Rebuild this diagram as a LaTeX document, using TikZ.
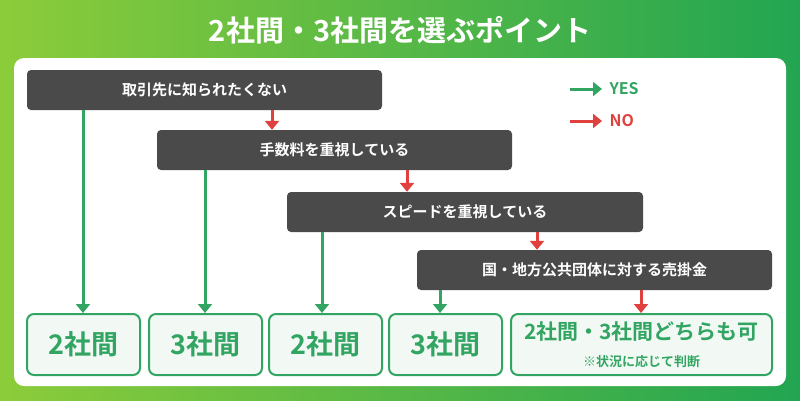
\documentclass[tikz,border=0pt]{standalone}
\usepackage{fontspec}
\setmainfont{Noto Sans CJK JP}[BoldFont={Noto Sans CJK JP Bold}]
\usetikzlibrary{arrows.meta}
\definecolor{bgl}{HTML}{8CCC3A}
\definecolor{bgr}{HTML}{22A552}
\definecolor{gbox}{HTML}{4A4A4A}
\definecolor{grn}{HTML}{33A563}
\definecolor{red}{HTML}{E0403E}
\definecolor{rfill}{HTML}{F2F9F4}
\begin{document}
\begin{tikzpicture}[x=1pt,y=-1pt,
 qbox/.style={draw=none,fill=gbox,rounded corners=4pt,text=white,font=\bfseries\fontsize{15}{18}\selectfont,inner sep=0pt},
 rbox/.style={draw=grn,line width=2pt,fill=rfill,rounded corners=7pt,text=grn,font=\bfseries\fontsize{27}{30}\selectfont,inner sep=0pt,align=center},
 yarr/.style={draw=grn,line width=3pt,-{Triangle[length=9pt,width=14pt]}},
 narr/.style={draw=red,line width=3pt,-{Triangle[length=9pt,width=14pt]}}]
\shade[left color=bgl,right color=bgr] (0,0) rectangle (800,400);
\useasboundingbox (0,0) rectangle (800,400);
\node[text=white,font=\bfseries\fontsize{29}{32}\selectfont] (title) at (400,30) {2社間・3社間を選ぶポイント};
\fill[white,rounded corners=10pt] (14,58) rectangle (786,386);
\node[qbox,minimum width=355pt,minimum height=40pt] (q1) at (204.5,90) {取引先に知られたくない};
\node[qbox,minimum width=355pt,minimum height=40pt] (q2) at (334.5,150) {手数料を重視している};
\node[qbox,minimum width=356pt,minimum height=40pt] (q3) at (465,212) {スピードを重視している};
\node[qbox,minimum width=355pt,minimum height=40pt] (q4) at (594.5,270) {国・地方公共団体に対する売掛金};
\node[rbox,minimum width=113pt,minimum height=61pt] (r1) at (83.5,344.5) {2社間};
\node[rbox,minimum width=113pt,minimum height=61pt] (r2) at (205.5,344.5) {3社間};
\node[rbox,minimum width=113pt,minimum height=61pt] (r3) at (325.5,344.5) {2社間};
\node[rbox,minimum width=113pt,minimum height=61pt] (r4) at (445.5,344.5) {3社間};
\node[rbox,minimum width=261pt,minimum height=61pt] (r5) at (641.5,344.5) {\fontsize{21}{24}\selectfont 2社間・3社間どちらも可\\[-3pt]\fontsize{13}{15}\selectfont ※状況に応じて判断};
\draw[yarr] (q1.south -| 83,0) -- (r1.north -| 83,0);
\draw[yarr] (q2.south -| 205,0) -- (r2.north -| 205,0);
\draw[yarr] (q3.south -| 322,0) -- (r3.north -| 322,0);
\draw[yarr] (q4.south -| 440,0) -- (r4.north -| 440,0);
\draw[narr] (q1.south -| 272,0) -- (q2.north -| 272,0);
\draw[narr] (q2.south -| 407,0) -- (q3.north -| 407,0);
\draw[narr] (q3.south -| 537,0) -- (q4.north -| 537,0);
\draw[narr] (q4.south -| 641,0) -- (r5.north -| 641,0);
\coordinate (ya) at (570,89); \coordinate (yb) at (602,89);
\coordinate (na) at (570,121); \coordinate (nb) at (602,121);
\draw[yarr] (ya) -- (yb);
\draw[narr] (na) -- (nb);
\node[anchor=west,text=grn,font=\bfseries\fontsize{16}{18}\selectfont] (yes) at (606,89) {YES};
\node[anchor=west,text=red,font=\bfseries\fontsize{16}{18}\selectfont] (no) at (606,121) {NO};
\end{tikzpicture}
\end{document}
